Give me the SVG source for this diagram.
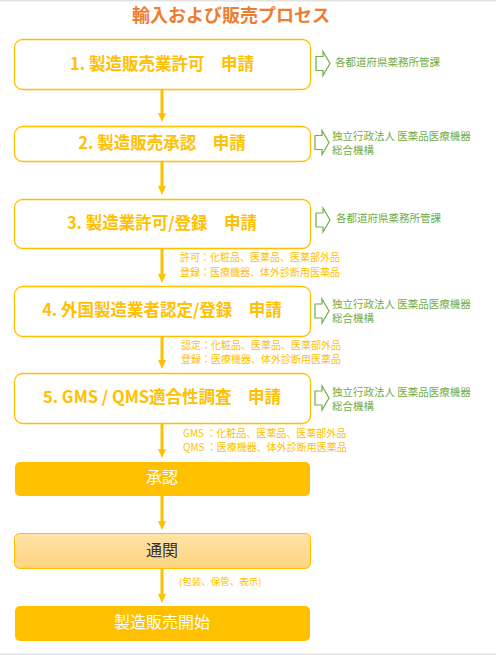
<svg xmlns="http://www.w3.org/2000/svg" width="496" height="655" viewBox="0 0 496 655">
<style>
text{font-family:"Noto Sans CJK JP","Noto Sans",sans-serif}
.box{fill:#fff;stroke:#FFC000;stroke-width:1.3}
.solid{fill:#FFC000}
.bt{fill:#FFC000;font-size:16.5px;font-weight:bold;text-anchor:middle}
.wt{fill:#fff;font-size:16px;text-anchor:middle}
.gt{fill:#70AD47;font-size:10.5px}
.ga{fill:#fff;stroke:#70AD47;stroke-width:1.2;stroke-linejoin:miter}
.yt{fill:#FFC000;font-size:10px}
.con{stroke:#FFC000;stroke-width:3;fill:none}
.title{fill:#ED7D31;font-size:18px;font-weight:bold;text-anchor:middle}
</style>
<defs>
<linearGradient id="g1" x1="0" y1="0" x2="0" y2="1">
<stop offset="0" stop-color="#FFE3A6"/>
<stop offset="1" stop-color="#FFD47F"/>
</linearGradient>
<path id="garrow" d="M0,-7 L7,-7 L7,-12 L14,0 L7,12 L7,7 L0,7 z"/>
</defs>
<rect x="0" y="0" width="496" height="1.5" fill="#E4E4E4"/>
<rect x="0" y="653.5" width="496" height="1.5" fill="#E4E4E4"/>
<text id="title" class="title" x="231" y="22">輸入および販売プロセス</text>
<g id="connectors">
<line class="con" x1="162" y1="89.5" x2="162" y2="113"/>
<path d="M158,113 L166,113 L162,122 z" fill="#FFC000"/>
<line class="con" x1="162" y1="161.5" x2="162" y2="186"/>
<path d="M158,186 L166,186 L162,195 z" fill="#FFC000"/>
<line class="con" x1="162" y1="249" x2="162" y2="274"/>
<path d="M158,274 L166,274 L162,283 z" fill="#FFC000"/>
<line class="con" x1="162" y1="336.5" x2="162" y2="360"/>
<path d="M158,360 L166,360 L162,369 z" fill="#FFC000"/>
<line class="con" x1="162" y1="423.5" x2="162" y2="449"/>
<path d="M158,449 L166,449 L162,458 z" fill="#FFC000"/>
<line class="con" x1="162" y1="496" x2="162" y2="521"/>
<path d="M158,521 L166,521 L162,530 z" fill="#FFC000"/>
<line class="con" x1="162" y1="568.5" x2="162" y2="594"/>
<path d="M158,594 L166,594 L162,603 z" fill="#FFC000"/>
</g>
<g id="n1">
<rect class="box" x="14.5" y="39.5" width="296" height="50" rx="8"/>
<text class="bt" x="162" y="70">1.  製造販売業許可　申請</text>
</g>
<g id="g1n">
<use href="#garrow" class="ga" transform="translate(316,63.5)"/>
<text class="gt" x="335" y="66">各都道府県薬務所管課</text>
</g>
<g id="n2">
<rect class="box" x="14.5" y="126.5" width="296" height="35" rx="8"/>
<text class="bt" x="162" y="149">2. 製造販売承認　申請</text>
</g>
<g id="g2n">
<use href="#garrow" class="ga" transform="translate(315,142.5)"/>
<text class="gt" x="332" y="140">独立行政法人 医薬品医療機器</text>
<text class="gt" x="332" y="153.5">総合機構</text>
</g>
<g id="n3">
<rect class="box" x="14.5" y="199.5" width="296" height="49" rx="8"/>
<text class="bt" x="162" y="229">3.  製造業許可/登録　申請</text>
</g>
<g id="g3n">
<use href="#garrow" class="ga" transform="translate(316,220)"/>
<text class="gt" x="336" y="222">各都道府県薬務所管課</text>
</g>
<g id="l3">
<text class="yt" x="180" y="261">許可：化粧品、医薬品、医薬部外品</text>
<text class="yt" x="180" y="275.5">登録：医療機器、体外診断用医薬品</text>
</g>
<g id="n4">
<rect class="box" x="14.5" y="286.5" width="296" height="50" rx="8"/>
<text class="bt" x="162" y="316">4.  外国製造業者認定/登録　申請</text>
</g>
<g id="g4n">
<use href="#garrow" class="ga" transform="translate(315,311)"/>
<text class="gt" x="332" y="308">独立行政法人 医薬品医療機器</text>
<text class="gt" x="332" y="321.5">総合機構</text>
</g>
<g id="l4">
<text class="yt" x="181" y="349">認定：化粧品、医薬品、医薬部外品</text>
<text class="yt" x="181" y="362.5">登録：医療機器、体外診断用医薬品</text>
</g>
<g id="n5">
<rect class="box" x="14.5" y="373.5" width="296" height="50" rx="8"/>
<text class="bt" x="162" y="403">5. GMS / QMS適合性調査　申請</text>
</g>
<g id="g5n">
<use href="#garrow" class="ga" transform="translate(315,398)"/>
<text class="gt" x="332" y="396">独立行政法人 医薬品医療機器</text>
<text class="gt" x="332" y="409.5">総合機構</text>
</g>
<g id="l5">
<text class="yt" x="183" y="437">GMS ：化粧品、医薬品、医薬部外品</text>
<text class="yt" x="183" y="451">QMS ：医療機器、体外診断用医薬品</text>
</g>
<g id="n6">
<rect class="solid" x="15" y="462" width="295" height="34" rx="5"/>
<text class="wt" x="162" y="483">承認</text>
</g>
<g id="n7">
<rect x="14.5" y="533.5" width="296" height="35" rx="5" fill="url(#g1)" stroke="#FFC000" stroke-width="1"/>
<text x="162" y="556" font-size="16" fill="#333" text-anchor="middle">通関</text>
</g>
<text id="l7" x="179" y="585" font-size="9.5" fill="#FFC000">(包装、保管、表示)</text>
<g id="n8">
<rect class="solid" x="15" y="606" width="295" height="35" rx="5"/>
<text class="wt" x="162" y="628">製造販売開始</text>
</g>
</svg>
